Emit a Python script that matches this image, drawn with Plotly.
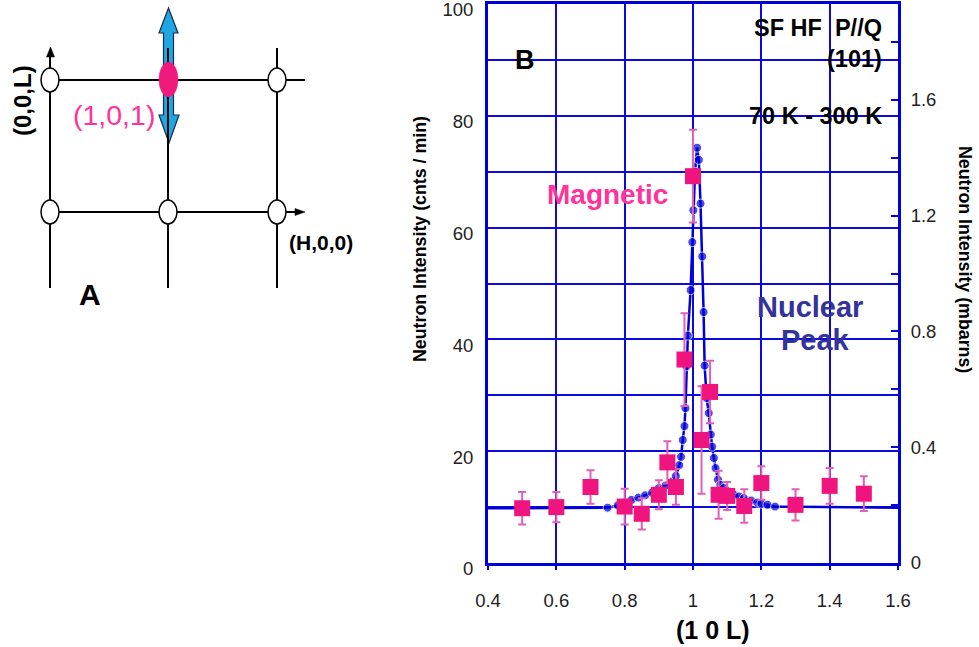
import plotly.graph_objects as go

W, H = 979, 647

# ---------------- data ----------------
# Magnetic scattering (cnts / min), left axis
mag_L = [0.5, 0.6, 0.7, 0.8, 0.85, 0.9, 0.925, 0.95, 0.975, 1.0, 1.025, 1.05,
         1.075, 1.1, 1.15, 1.2, 1.3, 1.4, 1.5]
mag_I = [9.8, 10.0, 13.6, 10.1, 8.8, 12.2, 18.0, 13.6, 36.4, 69.2, 22.0, 30.6,
         12.2, 12.0, 10.2, 14.3, 10.4, 13.8, 12.4]
mag_err = [2.9, 2.7, 3.0, 3.2, 2.8, 2.6, 3.8, 3.2, 8.3, 8.3, 9.6, 5.6,
           4.3, 2.5, 3.0, 3.0, 2.8, 3.2, 3.1]

# Nuclear peak (mbarns), right axis
nuc_L = [0.40, 0.75, 0.78, 0.80, 0.82, 0.84, 0.86, 0.88, 0.90, 0.92, 0.94, 0.95,
         0.96, 0.965, 0.97, 0.975, 0.978, 0.981, 0.985, 0.993, 0.998, 1.001, 1.006,
         1.012, 1.017, 1.022, 1.027, 1.031, 1.034, 1.040, 1.046, 1.052, 1.056,
         1.061, 1.066, 1.073, 1.08, 1.09, 1.10, 1.12, 1.135, 1.149, 1.17, 1.188,
         1.20, 1.218, 1.24, 1.60]
nuc_I = [0.189, 0.191, 0.199, 0.209, 0.218, 0.226, 0.234, 0.243, 0.259, 0.268, 0.282, 0.301,
         0.338, 0.367, 0.425, 0.473, 0.535, 0.680, 0.786, 0.943, 1.109, 1.219, 1.352,
         1.435, 1.393, 1.242, 1.059, 0.867, 0.682, 0.570, 0.518, 0.444, 0.402,
         0.363, 0.328, 0.288, 0.270, 0.259, 0.249, 0.236, 0.230, 0.224, 0.216, 0.209,
         0.205, 0.201, 0.195, 0.191]
nuc_is_fit_end = [True] + [False] * (len(nuc_L) - 2) + [True]

x_ticks = [0.4, 0.6, 0.8, 1.0, 1.2, 1.4, 1.6]
x_ticktext = ["0.4", "0.6", "0.8", "1", "1.2", "1.4", "1.6"]
y_left_ticks = [0, 20, 40, 60, 80, 100]
y_right_ticks = [0, 0.4, 0.8, 1.2, 1.6]

# ---------------- styles ----------------
BLUE = "#0000d8"
GRID = "#0a0ae0"
PINK = "#f0147f"
PINK_ERR = "#e060b8"
TXT_PINK = "#ff3399"
NAVY = "#333399"
ARIAL = "Liberation Sans, Arial, sans-serif"
TICKFONT = dict(family=ARIAL, size=18.5, color="#222222")


def px(x):
    return x / W


def py(y):
    return 1 - y / H


x0p, x1p = 488, 898
y0p, y1p = 563, 4

fig = go.Figure()

fig.add_trace(go.Scatter(
    x=nuc_L, y=nuc_I, mode="lines+markers", yaxis="y",
    line=dict(color=BLUE, width=2.5),
    marker=dict(color=BLUE, size=[0 if e else 9 for e in nuc_is_fit_end]),
    showlegend=False, hoverinfo="skip"))

fig.add_trace(go.Scatter(
    x=mag_L, y=mag_I, mode="markers", yaxis="y2",
    marker=dict(symbol="square", size=16, color=PINK),
    error_y=dict(type="data", array=mag_err, visible=True, color=PINK_ERR,
                 thickness=2, width=4),
    showlegend=False, hoverinfo="skip"))

fig.update_layout(
    width=W, height=H,
    margin=dict(l=0, r=0, t=0, b=0, pad=0, autoexpand=False),
    paper_bgcolor="white", plot_bgcolor="white",
    xaxis=dict(
        domain=[px(x0p), px(x1p)], range=[0.4, 1.6], automargin=False,
        tickmode="array", tickvals=x_ticks, ticktext=x_ticktext,
        showgrid=True, gridcolor=GRID, gridwidth=2, zeroline=False,
        showline=True, linecolor=BLUE, linewidth=3, mirror=True,
        ticks="outside", ticklen=4, tickwidth=2, tickcolor=BLUE,
        ticklabelstandoff=15, tickfont=TICKFONT,
    ),
    yaxis=dict(
        domain=[py(y0p), py(y1p)], range=[0, 1.9316], side="right", automargin=False,
        tickmode="array", tickvals=y_right_ticks,
        showgrid=False, zeroline=False,
        showline=True, linecolor=BLUE, linewidth=3,
        ticks="inside", ticklen=7, tickwidth=2, tickcolor=BLUE,
        minor=dict(dtick=0.2, tick0=0, ticks="inside", ticklen=7,
                   tickwidth=2, tickcolor=BLUE, showgrid=False),
        ticklabelstandoff=6, tickfont=TICKFONT,
    ),
    yaxis2=dict(
        overlaying="y", side="left", range=[0, 100], automargin=False,
        tickmode="array", tickvals=y_left_ticks,
        showgrid=True, gridcolor=GRID, gridwidth=2, zeroline=False,
        minor=dict(dtick=10, tick0=0, showgrid=True, gridcolor=GRID,
                   gridwidth=2, ticks=""),
        showline=True, linecolor=BLUE, linewidth=3,
        ticks="", ticklabelstandoff=8, ticklabelshift=6,
        ticklabeloverflow="allow", tickfont=TICKFONT,
    ),
)

ann = []


def text(x, y, t, size, color="black", bold=True, family=ARIAL, angle=0,
         xanchor="center"):
    ann.append(dict(
        x=px(x), y=py(y), xref="paper", yref="paper", text=(f"<b>{t}</b>" if bold else t),
        showarrow=False, xanchor=xanchor, yanchor="middle", textangle=angle,
        font=dict(family=family, size=size, color=color)))


# Panel B labels
text(525, 60, "B", 27)
text(884, 28, "SF HF\u00a0 P//Q", 23.5, xanchor="right")
text(884, 59, "(101)", 23.5, xanchor="right")
text(884, 116, "70 K - 300 K", 23.5, xanchor="right")
text(607, 195, "Magnetic", 28, color=TXT_PINK)
text(810, 307, "Nuclear", 29, color=NAVY)
text(815, 340, "Peak", 29, color=NAVY)
text(420, 239, "Neutron Intensity (cnts / min)", 17.8, angle=-90)
text(965, 259, "Neutron Intensity (mbarns)", 17.8, angle=90)
text(713, 630, "(1 0 L)", 25)

# Panel A labels
text(22, 101, "(0,0,L)", 24, angle=-90)
text(114, 115, "(1,0,1)", 28.5, color=TXT_PINK, bold=False)
text(321, 243, "(H,0,0)", 21)
text(90, 294, "A", 30)

fig.update_layout(annotations=ann)

# ---------------- Panel A schematic ----------------
shapes = []


def line(xa, ya, xb, yb, w=2, color="black"):
    shapes.append(dict(type="line", xref="paper", yref="paper",
                       x0=px(xa), y0=py(ya), x1=px(xb), y1=py(yb),
                       line=dict(color=color, width=w)))


def poly(pts, fill, lc="black", lw=1):
    d = "M " + " L ".join(f"{px(a):.5f},{py(b):.5f}" for a, b in pts) + " Z"
    shapes.append(dict(type="path", xref="paper", yref="paper", path=d,
                       fillcolor=fill, line=dict(color=lc, width=lw)))


def ellipse(cx, cy, w, h, fill, lc="black", lw=1.5):
    shapes.append(dict(type="circle", xref="paper", yref="paper",
                       x0=px(cx - w / 2), x1=px(cx + w / 2),
                       y0=py(cy + h / 2), y1=py(cy - h / 2),
                       fillcolor=fill, line=dict(color=lc, width=lw)))


# blue double arrow (drawn first)
poly([(168.5, 8), (178, 33), (173.5, 33), (173.5, 115), (179, 115), (169, 143),
      (159, 115), (163.5, 115), (163.5, 33), (159, 33)], "#1ea7e1", lc="#1a2a50", lw=1.2)

# grid of reciprocal lattice
line(50, 56, 50, 288)
line(168, 48, 168, 288)
line(277, 48, 277, 288)
line(50, 80, 305, 80)
line(50, 212, 296, 212)
poly([(50.5, 47), (46.5, 57), (54.5, 57)], "black", lw=0.5)
poly([(305, 212), (295, 208.5), (295, 215.5)], "black", lw=0.5)

for cx, cy in [(50, 80), (277, 80), (50, 212), (168, 212), (277, 212)]:
    ellipse(cx, cy, 18, 24, "white")
ellipse(168.5, 79.5, 19, 35, "#f0197d", lc="#f0197d", lw=0.5)

fig.update_layout(shapes=shapes)

fig.write_html("out.html",
               config={"displayModeBar": False},
               post_script="document.body.style.margin='0';document.body.style.overflow='hidden';")
